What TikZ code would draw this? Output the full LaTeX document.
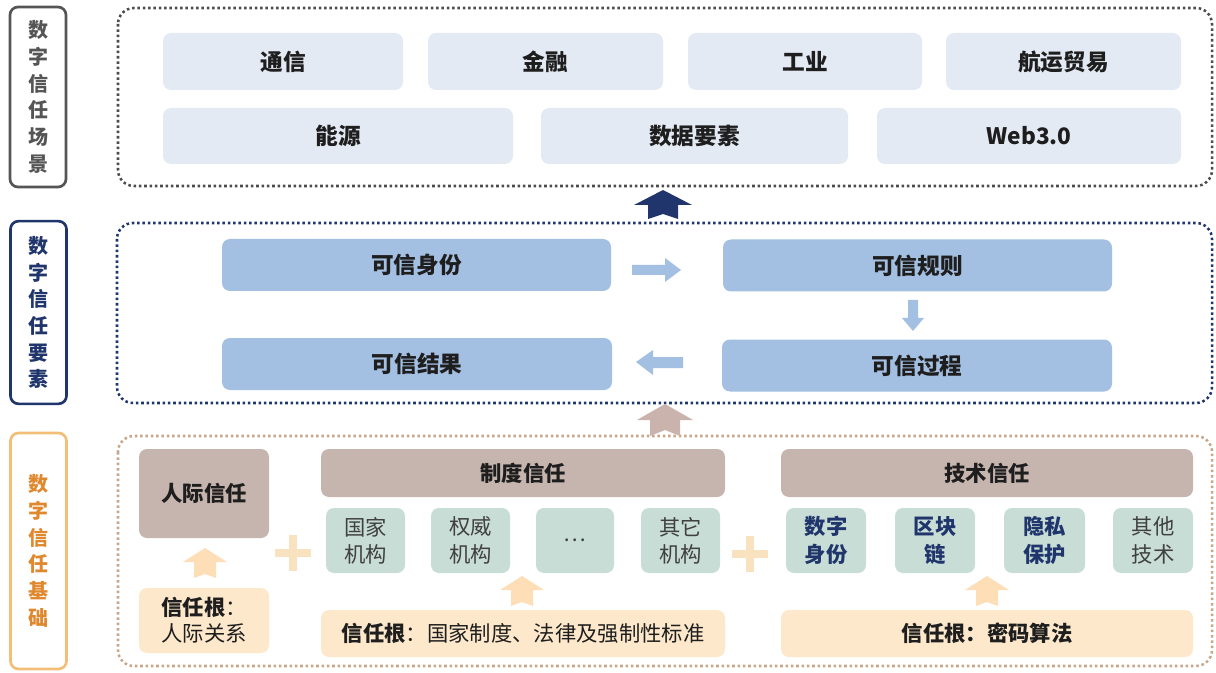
\documentclass[tikz,border=0pt]{standalone}
\usepackage{fontspec}
\setmainfont{Noto Sans CJK SC}
\setsansfont{Noto Sans CJK SC}
\usetikzlibrary{positioning}
\definecolor{scgray}{HTML}{555555}
\definecolor{navy}{HTML}{1F356B}
\definecolor{orangeb}{HTML}{F2BE78}
\definecolor{oranget}{HTML}{E0882E}
\definecolor{tanb}{HTML}{C8A68A}
\definecolor{topfill}{HTML}{E4EAF4}
\definecolor{midfill}{HTML}{A3BFE2}
\definecolor{brownfill}{HTML}{C6B5AF}
\definecolor{greenfill}{HTML}{C8DDD6}
\definecolor{creamfill}{HTML}{FDE8CB}
\definecolor{plusc}{HTML}{F9E2C0}
\definecolor{arrowtan}{HTML}{C9B3AC}
\definecolor{txt}{HTML}{1E1E1E}
\begin{document}
\begin{tikzpicture}[x=0.75pt,y=-0.75pt,
  sidelab/.style={draw, line width=2pt, rounded corners=6pt, align=center, inner sep=0pt, font=\fontsize{15}{20}\selectfont\bfseries},
  cont/.style={line width=1.9pt, dash pattern=on 1.9pt off 2.1pt, rounded corners=12pt},
  topbox/.style={fill=topfill, rounded corners=6pt, font=\fontsize{17}{20}\selectfont\bfseries, text=txt},
  midbox/.style={fill=midfill, rounded corners=6pt, font=\fontsize{17}{20}\selectfont\bfseries, text=txt},
  brownbox/.style={fill=brownfill, rounded corners=6pt, font=\fontsize{16}{20}\selectfont\bfseries, text=txt},
  greenbox/.style={fill=greenfill, rounded corners=6pt, align=center, font=\fontsize{16}{20.5}\selectfont, text=txt!85},
  techbox/.style={greenbox, font=\fontsize{16}{20.5}\selectfont\bfseries, text=navy},
  creambox/.style={fill=creamfill, rounded corners=6pt, font=\fontsize{16}{19.5}\selectfont, text=txt},
]
\useasboundingbox (0,0) rectangle (1216,673);
% side labels
\node[sidelab, draw=scgray, text=scgray, minimum width=42pt, minimum height=135pt] (L1) at (38,97) {数\\字\\信\\任\\场\\景};
\node[sidelab, draw=navy, text=navy, minimum width=42pt, minimum height=137pt] (L2) at (38.5,312.5) {数\\字\\信\\任\\要\\素};
\node[sidelab, draw=orangeb, text=oranget, minimum width=42pt, minimum height=177pt] (L3) at (38.5,551) {数\\字\\信\\任\\基\\础};
% containers
\draw[cont, draw=scgray!90!black] (118,8) rectangle (1212,186);
\draw[cont, draw=navy] (117,223) rectangle (1212,403);
\draw[cont, draw=tanb] (118,436) rectangle (1212,666);
% top boxes
\node[topbox, minimum width={240*0.75pt}, minimum height={57*0.75pt}] (t1) at (283,61.5) {通信};
\node[topbox, minimum width={235*0.75pt}, minimum height={57*0.75pt}] (t2) at (545.5,61.5) {金融};
\node[topbox, minimum width={234*0.75pt}, minimum height={57*0.75pt}] (t3) at (805,61.5) {工业};
\node[topbox, minimum width={235*0.75pt}, minimum height={57*0.75pt}] (t4) at (1063.5,61.5) {航运贸易};
\node[topbox, minimum width={350*0.75pt}, minimum height={56*0.75pt}] (t5) at (338,136) {能源};
\node[topbox, minimum width={307*0.75pt}, minimum height={56*0.75pt}] (t6) at (694.5,136) {数据要素};
\node[topbox, minimum width={304*0.75pt}, minimum height={56*0.75pt}] (t7) at (1029,136) {Web3.0};
% up arrow navy
\fill[navy] (663,190) -- (692,205) -- (678,205) -- (678,219) -- (663,214) -- (648,219) -- (648,205) -- (634,205) -- cycle;
% middle boxes
\node[midbox, minimum width={389*0.75pt}, minimum height={52*0.75pt}] (m1) at (416.5,265) {可信身份};
\node[midbox, minimum width={389*0.75pt}, minimum height={52*0.75pt}] (m2) at (917.5,265.5) {可信规则};
\node[midbox, minimum width={390*0.75pt}, minimum height={52*0.75pt}] (m3) at (417,364) {可信结果};
\node[midbox, minimum width={390*0.75pt}, minimum height={52*0.75pt}] (m4) at (917,365.5) {可信过程};
% middle arrows
\fill[midfill] (632,265) -- (665,265) -- (665,258) -- (681,270) -- (665,282) -- (665,275) -- (632,275) -- cycle;
\fill[midfill] (908,300) -- (918,300) -- (918,318) -- (924,318) -- (913,331) -- (902,318) -- (908,318) -- cycle;
\fill[midfill] (683,357) -- (653,357) -- (653,350) -- (636,362) -- (653,375) -- (653,368) -- (683,368) -- cycle;
% tan arrow
\fill[arrowtan] (665,404) -- (693,420) -- (680,420) -- (680,436) -- (665,430) -- (650,436) -- (650,420) -- (637,420) -- cycle;
% bottom
\node[brownbox, minimum width={130*0.75pt}, minimum height={89*0.75pt}] (b0) at (204,493.5) {人际信任};
\node[brownbox, minimum width={404*0.75pt}, minimum height={48*0.75pt}] (b1) at (523,473) {制度信任};
\node[brownbox, minimum width={412*0.75pt}, minimum height={48*0.75pt}] (b2) at (987,473) {技术信任};
\node[greenbox, minimum width={79*0.75pt}, minimum height={65*0.75pt}] (g1) at (365.5,540.5) {国家\\机构};
\node[greenbox, minimum width={79*0.75pt}, minimum height={65*0.75pt}] (g2) at (470.5,540.5) {权威\\机构};
\node[greenbox, minimum width={78*0.75pt}, minimum height={65*0.75pt}] (g3) at (575,540.5) {…};
\node[greenbox, minimum width={79*0.75pt}, minimum height={65*0.75pt}] (g4) at (680.5,540.5) {其它\\机构};
\node[techbox, minimum width={80*0.75pt}, minimum height={65*0.75pt}] (g5) at (826,540.5) {数字\\身份};
\node[techbox, minimum width={80*0.75pt}, minimum height={65*0.75pt}] (g6) at (935,540.5) {区块\\链};
\node[techbox, minimum width={81*0.75pt}, minimum height={65*0.75pt}] (g7) at (1044.5,540.5) {隐私\\保护};
\node[greenbox, minimum width={80*0.75pt}, minimum height={65*0.75pt}] (g8) at (1153,540.5) {其他\\技术};
\node[creambox, align=left, minimum width={130*0.75pt}, minimum height={65*0.75pt}] (c0) at (204,620.5) {\textbf{信任根}：\\人际关系};
\node[creambox, minimum width={404*0.75pt}, minimum height={47*0.75pt}] (c1) at (523,633.5) {\textbf{信任根}：国家制度、法律及强制性标准};
\node[creambox, minimum width={412*0.75pt}, minimum height={47*0.75pt}] (c2) at (987,633.5) {\textbf{信任根：密码算法}};
% plus signs
\fill[plusc] (275,549) rectangle (311,557);
\fill[plusc] (289,535) rectangle (297,571);
\fill[plusc] (732,550) rectangle (768,558);
\fill[plusc] (746,536) rectangle (754,572);
% small cream arrows
\foreach \cx/\ty in {205/548, 522/576, 987/576}{
  \fill[creamfill!90!orange] (\cx,\ty) -- (\cx+22,\ty+14) -- (\cx+11,\ty+14) -- (\cx+11,\ty+30) -- (\cx,\ty+26) -- (\cx-11,\ty+30) -- (\cx-11,\ty+14) -- (\cx-22,\ty+14) -- cycle;
}
\end{tikzpicture}
\end{document}
